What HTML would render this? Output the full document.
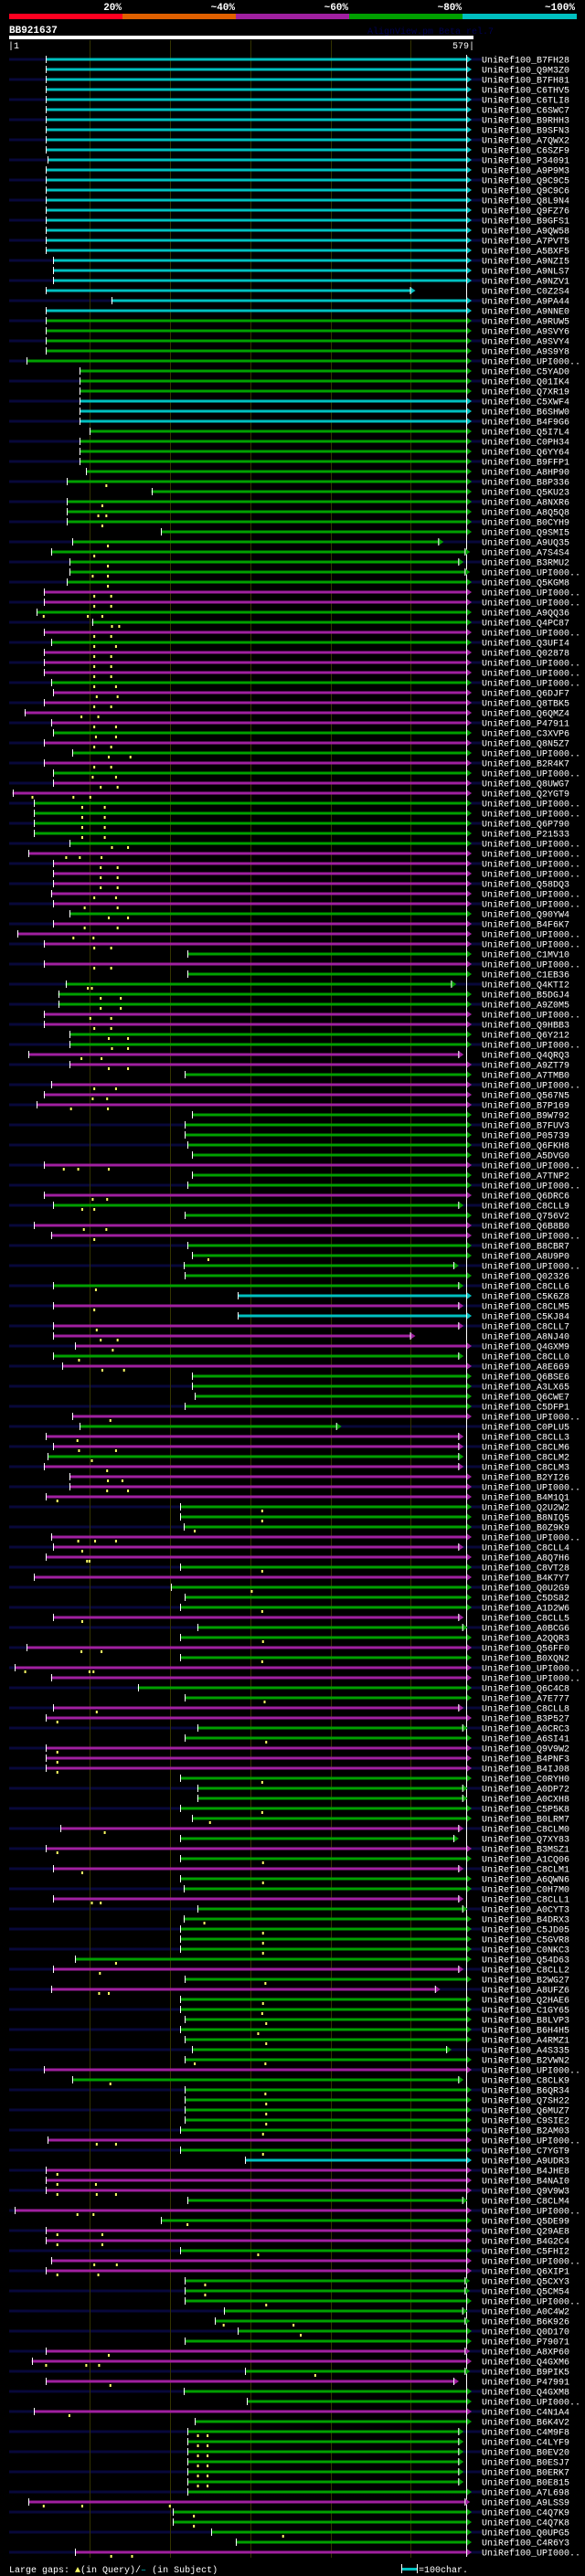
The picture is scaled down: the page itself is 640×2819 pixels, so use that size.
<!DOCTYPE html>
<html><head><meta charset="utf-8">
<style>
html,body{margin:0;padding:0;background:#000;}
svg{display:block;}
text{font-family:"Liberation Mono",monospace;}
</style></head>
<body>
<svg id="chart" xmlns="http://www.w3.org/2000/svg" width="640" height="2819" viewBox="0 0 640 2819">
<rect x="0" y="0" width="640" height="2819" fill="#000"/>
<g>
<text x="133" y="11" text-anchor="end" fill="#fff" font-size="11" font-weight="bold">20%</text>
<text x="257" y="11" text-anchor="end" fill="#fff" font-size="11" font-weight="bold">~40%</text>
<text x="381" y="11" text-anchor="end" fill="#fff" font-size="11" font-weight="bold">~60%</text>
<text x="505" y="11" text-anchor="end" fill="#fff" font-size="11" font-weight="bold">~80%</text>
<text x="629" y="11" text-anchor="end" fill="#fff" font-size="11" font-weight="bold">~100%</text>
<rect x="10" y="15" width="124" height="6" fill="#ff0020"/>
<rect x="134" y="15" width="124" height="6" fill="#e06000"/>
<rect x="258" y="15" width="124" height="6" fill="#a020a0"/>
<rect x="382" y="15" width="124" height="6" fill="#00a000"/>
<rect x="506" y="15" width="125" height="6" fill="#00c0c0"/>
</g>
<text x="10" y="36" fill="#fff" font-size="11" font-weight="bold">BB921637</text>
<text x="402" y="37" fill="#000050" font-size="10">AlignView.pm Beta rel.7</text>
<rect x="10" y="39" width="508" height="4" fill="#fff"/>
<text x="9" y="53" fill="#fff" font-size="10">|1</text>
<text x="519" y="53" text-anchor="end" fill="#fff" font-size="10">579|</text>
<g id="grid"></g>
<g id="rows"></g>
<g>
<text x="10" y="2815" fill="#fff" font-size="10" xml:space="preserve">Large gaps: <tspan fill="#ffff66">▲</tspan>(in Query)/<tspan fill="#00c0c0">–</tspan> (in Subject)</text>
<rect x="440" y="2810" width="16" height="3" fill="#00c0c0"/>
<rect x="439" y="2806" width="1" height="10" fill="#fff"/>
<rect x="456" y="2806" width="1" height="10" fill="#fff"/>
<text x="458" y="2815" fill="#fff" font-size="10">=100char.</text>
</g>
</svg>
<script>
const names = ["B7FH28","Q9M3Z0","B7FH81","C6THV5","C6TLI8","C6SWC7","B9RHH3","B9SFN3","A7QWX2","C6SZF9",
"P34091","A9P9M3","Q9C9C5","Q9C9C6","Q8L9N4","Q9FZ76","B9GFS1","A9QW58","A7PVT5","A5BXF5",
"A9NZI5","A9NLS7","A9NZV1","C0Z2S4","A9PA44","A9NNE0","A9RUW5","A9SVY6","A9SVY4","A9S9Y8",
"UPI000..","C5YAD0","Q01IK4","Q7XR19","C5XWF4","B6SHW0","B4F9G6","Q5I7L4","C0PH34","Q6YY64",
"B9FFP1","A8HP90","B8P336","Q5KU23","A8NXR6","A8Q5Q8","B0CYH9","Q9SMI5","A9UQ35","A7S4S4",
"B3RMU2","UPI000..","Q5KGM8","UPI000..","UPI000..","A9QQ36","Q4PC87","UPI000..","Q3UFI4","Q02878",
"UPI000..","UPI000..","UPI000..","Q6DJF7","Q8TBK5","Q6QMZ4","P47911","C3XVP6","Q8N5Z7","UPI000..",
"B2R4K7","UPI000..","Q8UWG7","Q2YGT9","UPI000..","UPI000..","Q6P790","P21533","UPI000..","UPI000..",
"UPI000..","UPI000..","Q58DQ3","UPI000..","UPI000..","Q90YW4","B4F6K7","UPI000..","UPI000..","C1MV10",
"UPI000..","C1EB36","Q4KTI2","B5DGJ4","A9Z0M5","UPI000..","Q9HBB3","Q6Y212","UPI000..","Q4QRQ3",
"A9ZT79","A7TMB0","UPI000..","Q567N5","B7P169","B9W792","B7FUV3","P05739","Q6FKH8","A5DVG0",
"UPI000..","A7TNP2","UPI000..","Q6DRC6","C8CLL9","Q756V2","Q6B8B0","UPI000..","B8CBR7","A8U9P0",
"UPI000..","Q02326","C8CLL6","C5K6Z8","C8CLM5","C5KJ84","C8CLL7","A8NJ40","Q4GXM9","C8CLL0",
"A8E669","Q6BSE6","A3LX65","Q6CWE7","C5DFP1","UPI000..","C0PLU5","C8CLL3","C8CLM6","C8CLM2",
"C8CLM3","B2YI26","UPI000..","B4M1Q1","Q2U2W2","B8NIQ5","B0Z9K9","UPI000..","C8CLL4","A8Q7H6",
"C8VT28","B4K7Y7","Q0U2G9","C5DS82","A1D2W6","C8CLL5","A0BCG6","A2QQR3","Q56FF0","B0XQN2",
"UPI000..","UPI000..","Q6C4C8","A7E777","C8CLL8","B3P527","A0CRC3","A6SI41","Q9V9W2","B4PNF3",
"B4IJ08","C0RYH0","A0DP72","A0CXH8","C5P5K8","B0LRM7","C8CLM0","Q7XY83","B3MSZ1","A1CQ06",
"C8CLM1","A6QWN6","C0H7M0","C8CLL1","A0CYT3","B4DRX3","C5JD05","C5GVR8","C0NKC3","Q54D63",
"C8CLL2","B2WG27","A8UFZ6","Q2HAE6","C1GY65","B8LVP3","B6H4H5","A4RMZ1","A4S335","B2VWN2",
"UPI000..","C8CLK9","B6QR34","Q7SH22","Q6MUZ7","C9SIE2","B2AM03","UPI000..","C7YGT9","A9UDR3",
"B4JHE8","B4NAI0","Q9V9W3","C8CLM4","UPI000..","Q5DE99","Q29AE8","B4G2C4","C5FHI2","UPI000..",
"Q6XIP1","Q5CXY3","Q5CM54","UPI000..","A0C4W2","B6K926","Q0D170","P79071","A8XP60","Q4GXM6",
"B9PIK5","P47991","Q4GXM8","UPI000..","C4N1A4","B6K4V2","C4M9F8","C4LYF9","B0EV20","B0ESJ7",
"B0ERK7","B0E815","A7L698","A9LSS9","C4Q7K9","C4Q7K8","Q0UPG5","C4R6Y3","UPI000.."];
const qStart = [47,47,47,47,47,47,47,47,47,47, 49,47,47,47,47,47,47,47,47,47,
56,56,56,47,128,47,47,47,47,47, 23,89,89,89,89,89,89,101,89,89,
89,97,73,178,73,73,73,190,80,53, 76,76,73,44,44,35,104,44,53,44,
44,44,53,56,44,20,53,56,44,80, 44,56,56,5,32,32,32,32,76,25,
56,56,56,53,56,76,56,11,44,223, 44,223,71,62,62,44,44,76,76,25,
76,220,53,44,35,229,220,220,223,229, 44,229,223,44,56,220,32,53,223,229,
218,220,56,286,56,286,56,56,83,56, 67,229,229,232,220,80,89,47,56,49,
44,76,76,47,214,214,218,53,56,47, 214,32,202,220,214,56,235,214,23,214,
8,53,161,220,56,47,235,220,47,47, 47,214,235,235,214,229,65,214,47,214,
56,214,218,56,235,218,214,214,214,83, 56,220,53,214,214,220,214,220,229,220,
44,80,220,220,220,220,214,49,214,295, 47,47,47,223,8,190,47,47,214,53,
47,220,220,220,268,257,286,220,47,29, 295,47,218,297,32,232,223,223,223,223,
223,223,223,25,205,205,253,283,83];
const qEnd = [570,570,570,570,570,570,570,570,570,570, 570,570,570,570,570,570,570,570,570,570,
570,570,570,500,570,570,570,570,570,570, 570,570,570,570,570,570,570,570,570,570,
570,570,570,570,570,570,570,570,535,568, 560,568,570,570,570,570,570,570,570,570,
570,570,570,570,570,570,570,570,570,570, 570,570,570,570,570,570,570,570,570,570,
570,570,570,570,570,570,570,570,570,570, 570,570,551,570,570,570,570,570,570,560,
570,570,570,570,570,570,570,570,570,570, 570,570,570,570,560,570,570,570,570,570,
554,570,560,570,560,570,560,500,570,560, 570,570,570,570,570,570,408,560,560,560,
560,570,570,570,570,570,570,570,560,570, 570,570,570,570,570,560,565,570,570,570,
570,570,570,570,560,570,565,570,570,570, 570,570,565,565,570,570,560,554,570,570,
560,570,570,560,565,570,570,570,570,570, 560,570,531,570,570,570,570,570,545,570,
570,560,570,570,570,570,570,570,570,570, 570,570,570,565,570,570,570,570,570,570,
570,568,568,570,565,568,570,570,568,570, 568,554,570,570,570,570,560,560,560,560,
560,560,570,568,570,570,570,570,570];
const identity = ("CCCCCCCCCC"+"CCCCCCCCCC"+"CCCCCCGGGG"+"GGGGCCCGGG"+"GGGGGGGGGG"+
"GGGPPGGPGP"+"PPGPPPPGPG"+"PGPPGGGGGP"+"PPPPPGPPPG"+"PGGGGPPGGP"+
"PGPPPGGGGG"+"PGGPGGPPGG"+"GGGCPCPPPG"+"PGGGGPGPPG"+"PPPPGGGPPP"+
"GPGGGPGGPG"+"PPGGPPGGPP"+"PGGGGGPGPG"+"PGGPGGGGGG"+"PGPGGGGGGG"+
"PGGGGGGPGC"+"PPPGPGPPGP"+"PGGGGGGGPP"+"GPGGPGGGGG"+"GGGPGGGGP").split("");
const gapMarks = [[],[],[],[],[],[],[],[],[],[], [],[],[],[],[],[],[],[],[],[],
[],[],[],[],[],[],[],[],[],[], [],[],[],[],[],[],[],[],[],[],
[],[],[122],[],[117],[112,122],[117],[],[124],[107], [124],[105,124],[124],[107,128],[107,128],[44,99,117],[129,138],[107,128],[107,134],[107,128],
[107,128],[107,128],[107,134],[110,136],[107,128],[91,112],[107,134],[109,134],[107,128],[125,152],
[107,128],[105,134],[115,136],[30,81,102],[92,120],[92,120],[92,120],[92,120],[129,149],[72,89,116],
[115,136],[115,136],[115,136],[107,134],[95,136],[125,149],[95,136],[81,106],[107,128],[],
[107,128],[],[99,104],[115,140],[115,140],[102,128],[107,128],[125,149],[129,149],[91,116],
[125,149],[],[107,134],[105,123],[78,124],[],[],[],[],[],
[69,87,125],[],[],[105,123],[92,107],[],[94,122],[107],[],[249],
[],[],[109],[],[107],[],[110],[115,136],[130],[88],
[117,144],[],[],[],[],[127],[],[86],[88,134],[104],
[123],[124,142],[123,149],[61],[316],[316],[232],[87,108,134],[92],[98,101],
[316],[],[303],[],[316],[92],[],[317],[91,116],[316],
[21,101,106],[],[],[319],[110],[61],[],[321],[61],[61],
[61],[316],[],[],[316],[251],[120],[],[61],[317],
[92],[317],[],[104,115],[],[244],[317],[317],[317],[134],
[114],[320],[113,125],[317],[316],[321],[311],[321],[],[232,320],
[],[127],[320],[321],[321],[321],[317],[110,134],[317],[],
[61],[61,109],[61,110,134],[],[86,106],[223],[61,117],[61,117],[311],[107,135],
[61,112],[245],[245],[321],[],[268,355],[364],[],[125],[47,97,113],
[382],[127],[],[],[76],[],[236,248],[236,248],[236,248],[236,248],
[236,248],[236,248],[],[44,92,201],[231],[231],[342],[],[128,154]];
const gridTicks = [101,201,301,401,501];

const NS = "http://www.w3.org/2000/svg";
const colorOf = {C:"#00c0c0", G:"#00a000", P:"#a020a0"};
function xq(q){ return 10 + (q-1)*508/578; }
function rowY(i){ return 65 + i*11; }
function mk(tag, attrs, parent){
  const e = document.createElementNS(NS, tag);
  for (const k in attrs) e.setAttribute(k, attrs[k]);
  parent.appendChild(e);
  return e;
}
const grid = document.getElementById("grid");
const rows = document.getElementById("rows");
const lastY = rowY(names.length-1);
// stripes behind even rows
for (let i=0;i<names.length;i+=2){
  const s = mk("rect",{x:10,y:rowY(i)-1.5,width:517,height:3,fill:"#08083a"},grid);
  
  
}
gridTicks.forEach(t=>{
  const l = mk("rect",{x:Math.round(xq(t)),y:44,width:1,height:lastY+6-44,fill:"#333300"},grid);
  
  
});
const endLine = mk("rect",{x:Math.round(xq(570)),y:60,width:1,height:lastY+5-60,fill:"#ffffff"},grid);



for (let i=0;i<names.length;i++){
  const y = rowY(i);
  const col = colorOf[identity[i]] || "#00a000";
  const g = mk("g",{},rows);
  
  
  const x0 = xq(qStart[i]), x1 = xq(qEnd[i]);
  const bar = mk("rect",{x:x0,y:y-1.5,width:x1-x0,height:3,fill:col},g);
  
  
  const st = mk("rect",{x:Math.round(x0),y:y-4,width:1,height:8,fill:"#fff"},g);
  
  
  const ar = mk("polygon",{points:`${x1},${y-4} ${x1+6},${y} ${x1},${y+4}`,fill:col},g);
  
  
  const ab = mk("rect",{x:x1,y:y-4,width:1,height:8,fill:"#fff"},g);
  
  
  (gapMarks[i]||[]).forEach(q=>{
    const m = mk("rect",{x:xq(q)-1,y:y+3,width:2,height:3,fill:"#ffff66"},g);
    
    
  });
  const t = mk("text",{x:527,y:y+3.5,fill:"#fff","font-size":10},g);
  t.textContent = "UniRef100_" + names[i];
  
  
}
</script>
</body></html>
